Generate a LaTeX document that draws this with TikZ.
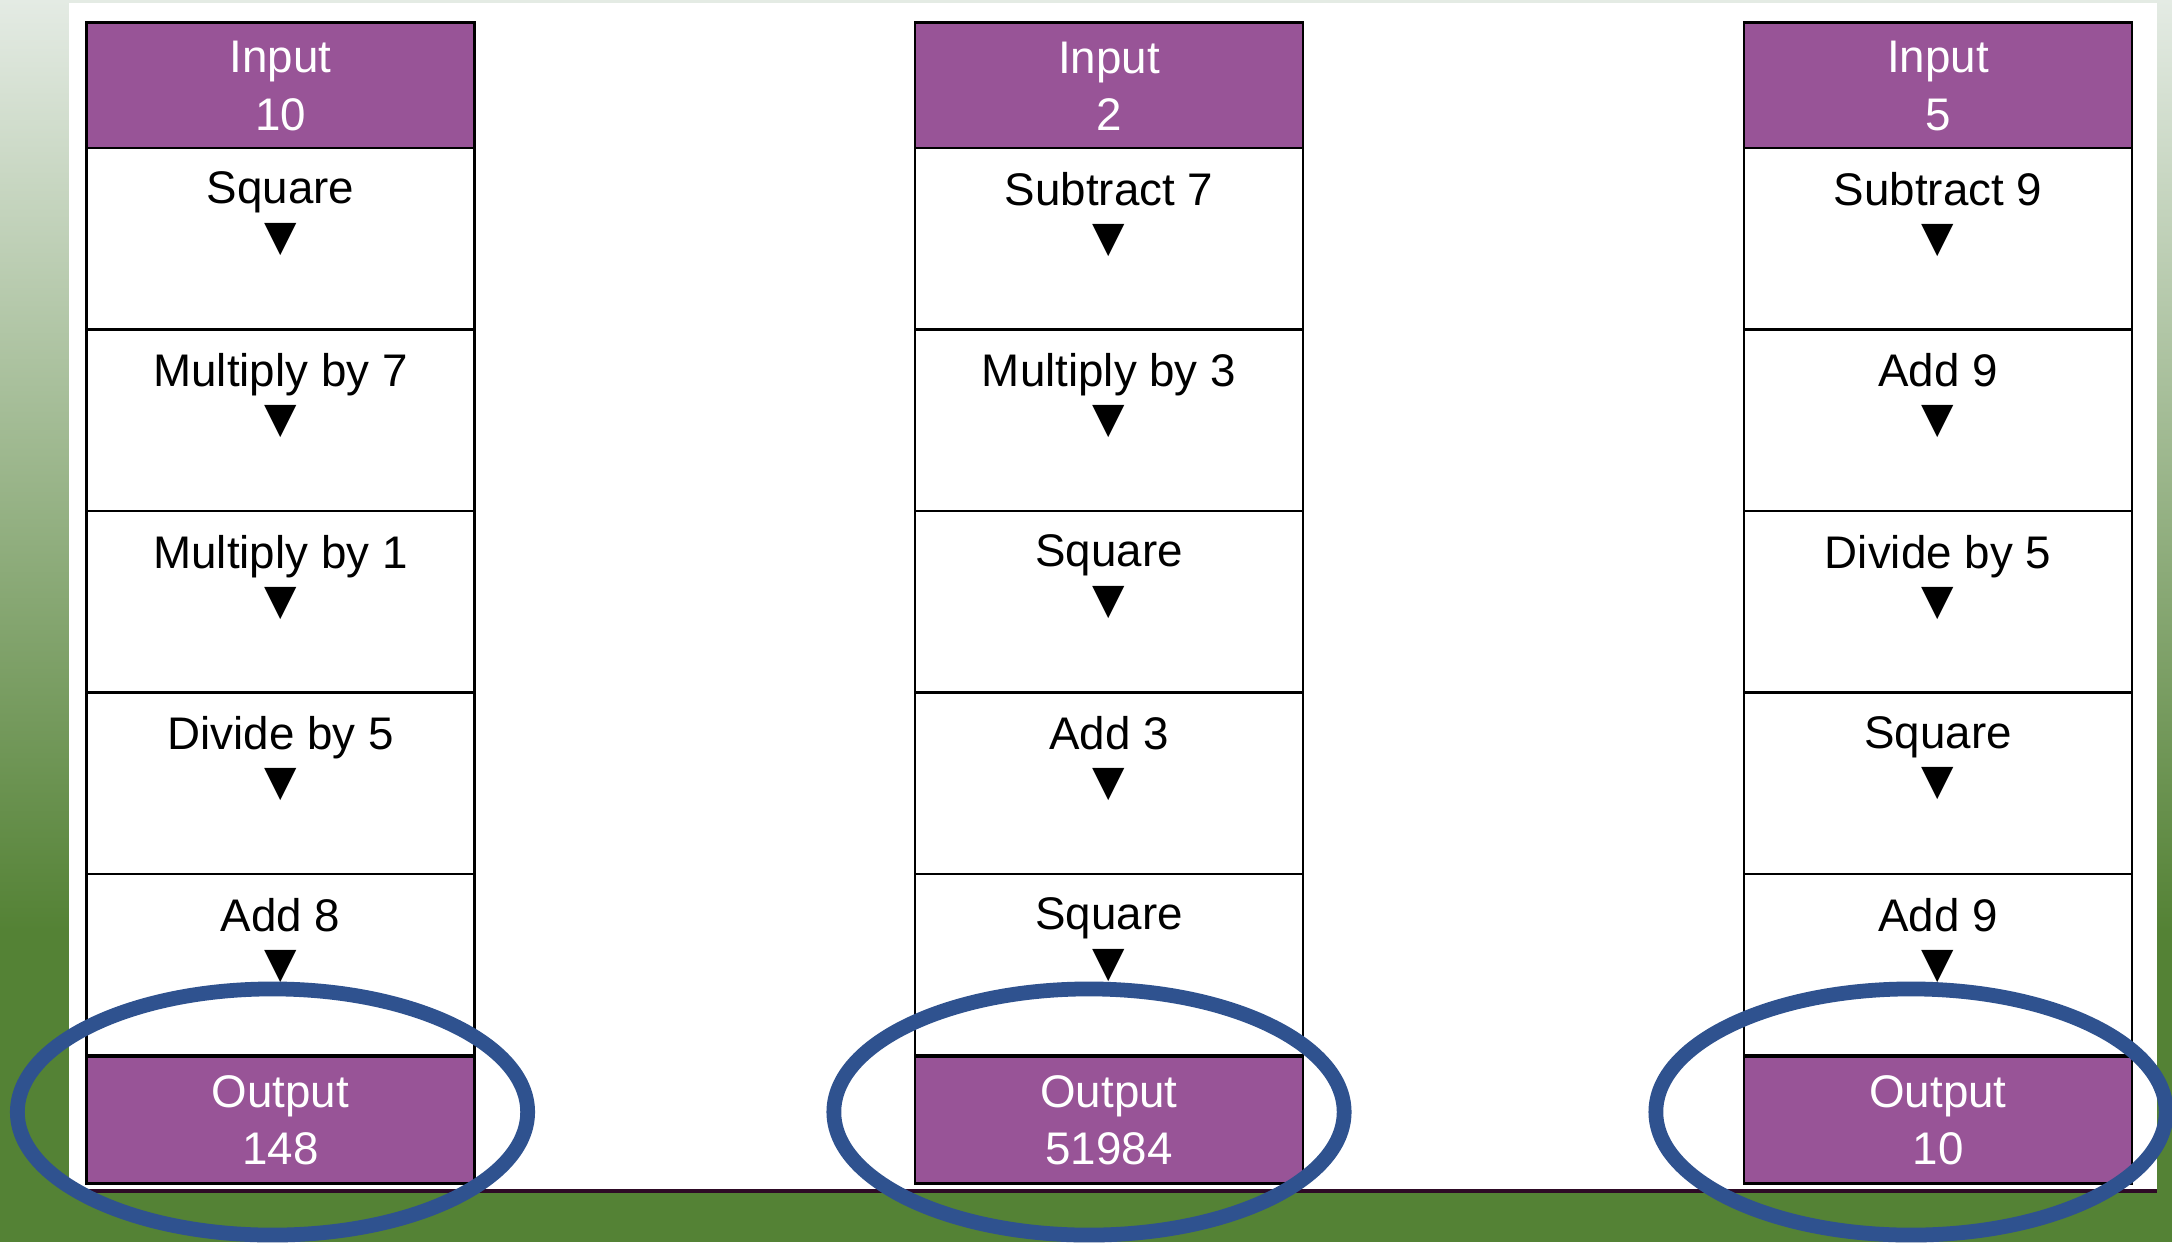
\documentclass[tikz,border=0pt]{standalone}
\usepackage{fontspec}
\setmainfont{Liberation Sans}
\newfontfamily\trifont{DejaVu Sans}
\usetikzlibrary{positioning,calc}
\definecolor{morado}{HTML}{985497}
\definecolor{azul}{HTML}{2F528F}
\definecolor{verde}{HTML}{548235}
\definecolor{verdeclaro}{HTML}{E4EBE4}
\definecolor{linea}{HTML}{2E0A26}
\tikzset{
  caja/.style={draw=black, line width=0.7pt, minimum width=3.88cm, inner sep=0pt},
  cabecera/.style={caja, fill=morado, text=white, minimum height=1.27cm,
    align=center, font=\fontsize{13}{16.3}\selectfont},
  paso/.style={caja, fill=white, minimum height=1.815cm},
  texto/.style={align=center, inner sep=0pt, font=\fontsize{13}{13.2}\selectfont},
  elipse/.style={draw=azul, line width=4.2pt}
}
\begin{document}
\begin{tikzpicture}[x=0.01cm, y=-0.01cm]
  \useasboundingbox (0,0) rectangle (2172,1242);
  % Fondo
  \shade[top color=verdeclaro, bottom color=verde] (0,0) rectangle (2172,930);
  \fill[verde] (0,929) rectangle (2172,1242);
  \fill[white] (69,3) rectangle (2157,1190);
  \draw[linea, line width=1.4pt] (69,1191) -- (2157,1191);
  % Columnas
  \foreach \col/\x/\ent/\sal/\ops in {
      1/280.5/10/148/{Square,Multiply by 7,Multiply by 1,Divide by 5,Add 8},
      2/1109/2/51984/{Subtract 7,Multiply by 3,Square,Add 3,Square},
      3/1938/5/10/{Subtract 9,Add 9,Divide by 5,Square,Add 9}}
  {
    \node[cabecera] (in\col) at (\x,86) {Input\\\ent};
    \foreach \op [count=\i] in \ops {
      \node[paso] (op\col\i) at (\x,{148+181.5*(\i-0.5)}) {};
      \node[texto, anchor=north] (t\col\i) at ($(op\col\i.north)+(0,24.5)$) {\op\\{\trifont\fontsize{12}{12}\selectfont ▼}};
    }
    \node[cabecera] (out\col) at (\x,1120) {Output\\\sal};
  }
  % Elipses
  \draw[elipse] ($(out1)+(-8,-8)$) ellipse [x radius=2.55cm, y radius=1.23cm];
  \draw[elipse] ($(out2)+(-20,-8)$) ellipse [x radius=2.55cm, y radius=1.23cm];
  \draw[elipse] ($(out3)+(-27,-8)$) ellipse [x radius=2.55cm, y radius=1.23cm];
\end{tikzpicture}
\end{document}
